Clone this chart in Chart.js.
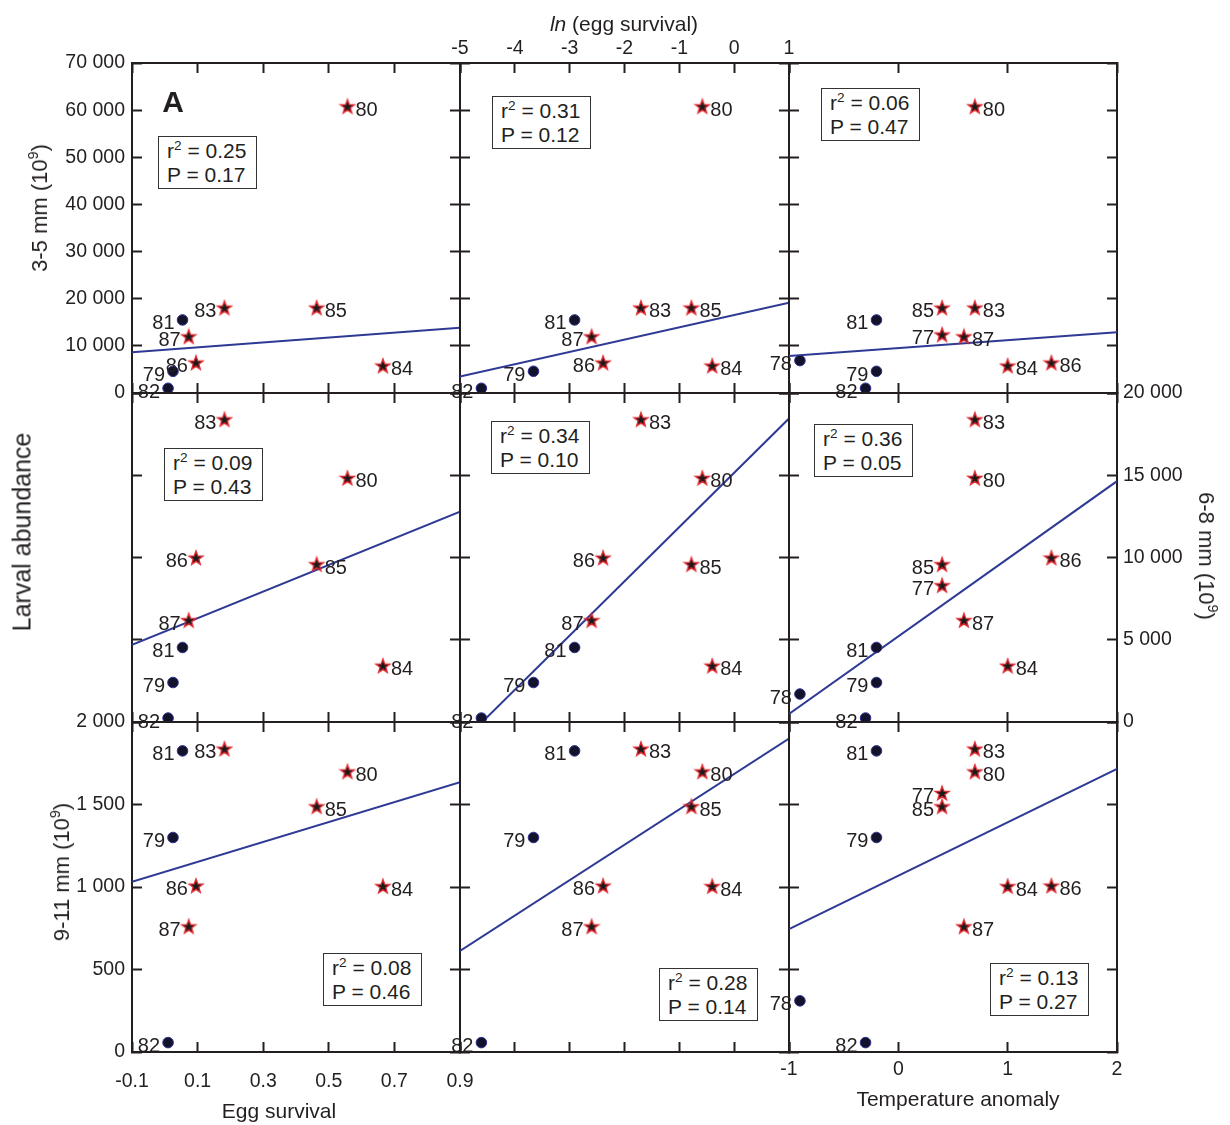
<!DOCTYPE html>
<html>
<head>
<meta charset="utf-8">
<script src="https://cdn.jsdelivr.net/npm/chart.js@4.4.0/dist/chart.umd.min.js"></script>
<style>
  body { margin: 0; background: #fff; }
  #page { position: relative; width: 1230px; height: 1125px; overflow: hidden; font-family: "Liberation Sans", Arial, sans-serif; color: #231f20; }
  #page canvas { position: absolute; left: 0; top: 0; }
  .lbl { position: absolute; line-height: 1; white-space: nowrap; transform: translate(-50%, -50%); z-index: 2; }
  .rotl { transform: translate(-50%, -50%) rotate(-90deg); }
  .rotr { transform: translate(-50%, -50%) rotate(90deg); }
  .lbl sup, .stat sup { font-size: 0.65em; line-height: 0; vertical-align: 0.6em; }
  .stat { position: absolute; z-index: 2; box-sizing: border-box; border: 1.5px solid #333; background: #fff;
          font-size: 21px; line-height: 24px; padding: 2px 0 0 8px; white-space: nowrap; }
</style>
</head>
<body>
<div id="page">
  <div id="charts"></div>
  <div class="lbl" style="left:624px;top:23px;font-size:21px"><i>ln</i> (egg survival)</div>
  <div class="lbl" style="left:279px;top:1110px;font-size:21px">Egg survival</div>
  <div class="lbl" style="left:958px;top:1098px;font-size:21px">Temperature anomaly</div>
  <div class="lbl rotl" style="left:40px;top:208px;font-size:22px">3-5 mm (10<sup>9</sup>)</div>
  <div class="lbl rotl" style="left:22px;top:532px;font-size:25px">Larval abundance</div>
  <div class="lbl rotl" style="left:62px;top:872px;font-size:22px">9-11 mm (10<sup>9</sup>)</div>
  <div class="lbl rotr" style="left:1206px;top:556px;font-size:22px">6-8 mm (10<sup>9</sup>)</div>
  <div class="lbl" style="left:173px;top:102px;font-size:30px;font-weight:bold">A</div>
  <div id="stats"></div>
</div>
<script>
// years and values (77 and 78 have no egg survival)
const years = [77, 78, 79, 80, 81, 82, 83, 84, 85, 86, 87];
const circleYears = [78, 79, 81, 82];
const eggSurvival = [null, null, 0.025, 0.557, 0.054, 0.010, 0.182, 0.665, 0.463, 0.095, 0.073];
const lnEggSurvival = [null, null, -3.66, -0.58, -2.91, -4.61, -1.70, -0.40, -0.78, -2.39, -2.60];
const tempAnomaly = [0.40, -0.90, -0.20, 0.70, -0.20, -0.30, 0.70, 1.00, 0.40, 1.40, 0.60];
const larvae3to5 = [12400, 6870, 4600, 60800, 15500, 1000, 18100, 5800, 18100, 6450, 12000];
const larvae6to8 = [8310, 1700, 2400, 14840, 4530, 240, 18400, 3420, 9590, 9990, 6190];
const larvae9to11 = [1570, 310, 1300, 1700, 1825, 57, 1838, 1005, 1489, 1008, 761];

// regression lines: y at left and right end of each panel [row][col]
const fitEnds = [
  [[8640, 13830], [3470, 19150], [7870, 12890]],
  [[4690, 12780], [-1340, 18450], [485, 14640]],
  [[1032, 1635], [613, 1899], [745, 1716]]
];
const rSquared = [[0.25, 0.31, 0.06], [0.09, 0.34, 0.36], [0.08, 0.28, 0.13]];
const pValues = [[0.17, 0.12, 0.47], [0.43, 0.10, 0.05], [0.46, 0.14, 0.27]];

const xRanges = [[-0.1, 0.9], [-5, 1], [-1, 2]];
const xTicks = [[-0.1, 0.1, 0.3, 0.5, 0.7, 0.9], [-5, -4, -3, -2, -1, 0, 1], [-1, 0, 1, 2]];
const yRanges = [[0, 70000], [0, 20000], [0, 2000]];
const yTicks = [
  [0, 10000, 20000, 30000, 40000, 50000, 60000, 70000],
  [0, 5000, 10000, 15000, 20000],
  [0, 500, 1000, 1500, 2000]
];

// which year labels sit left of their marker, per column
const labelLeft = [[79, 81, 82, 83, 86, 87], [79, 81, 82, 86, 87], [77, 78, 79, 81, 82, 85]];

// panel edges in page pixels and stat box spots
const colEdges = [132, 460, 789, 1117];
const rowEdges = [63, 393, 722, 1052];
const statBoxes = [
  [[158, 136], [492, 96], [821, 88]],
  [[164, 448], [491, 421], [814, 424]],
  [[323, 953], [659, 968], [990, 963]]
];

const W = 1230, H = 1125;
const SIDE = 100, CAP = 55;   // fixed scale box sizes so labels are not clipped
const ink = '#231f20';
const family = '"Liberation Sans", Arial, sans-serif';
const xSeries = [eggSurvival, lnEggSurvival, tempAnomaly];
const ySeries = [larvae3to5, larvae6to8, larvae9to11];
const spaced = v => String(v).replace(/\B(?=(\d{3})+(?!\d))/g, ' ');
const xFormat = [v => v.toFixed(1), v => String(v), v => String(v)];

function makeStar() {
  const c = document.createElement('canvas');
  c.width = 18; c.height = 18;
  const g = c.getContext('2d');
  g.beginPath();
  for (let k = 0; k < 10; k++) {
    const r = k % 2 ? 3.0 : 7.4;
    const a = -Math.PI / 2 + k * Math.PI / 5;
    g.lineTo(9 + r * Math.cos(a), 9.6 + r * Math.sin(a));
  }
  g.closePath();
  g.fillStyle = '#1b1b1b';
  g.fill();
  g.strokeStyle = '#e3262d';
  g.lineWidth = 1.3;
  g.stroke();
  return c;
}
const starImg = makeStar();

const yearLabels = {
  id: 'yearLabels',
  afterDatasetsDraw(chart, args, opts) {
    const meta = chart.getDatasetMeta(0);
    const ds = chart.data.datasets[0];
    const g = chart.ctx;
    g.save();
    g.font = '20px ' + family;
    g.fillStyle = ink;
    g.textBaseline = 'alphabetic';
    meta.data.forEach((pt, i) => {
      const yr = ds.data[i].year;
      const onLeft = opts.left.includes(yr);
      g.textAlign = onLeft ? 'right' : 'left';
      g.fillText(String(yr), pt.x + (onLeft ? -8 : 8), pt.y + 9.5);
    });
    g.restore();
  }
};

function axis(pos, range, ticks, show, pad, fmt) {
  const vertical = pos === 'left' || pos === 'right';
  return {
    type: 'linear',
    position: pos,
    min: range[0],
    max: range[1],
    afterBuildTicks: s => { s.ticks = ticks.map(v => ({ value: v })); },
    afterFit: s => { if (vertical) s.width = SIDE; else s.height = CAP; },
    border: { display: true, color: ink, width: 2 },
    grid: { drawOnChartArea: false, drawTicks: true, tickLength: -10, tickWidth: 2, tickColor: ink },
    ticks: {
      display: show,
      padding: pad,
      color: ink,
      autoSkip: false,
      maxRotation: 0,
      font: { family: family, size: 19.5 },
      callback: v => fmt(v)
    }
  };
}

const holder = document.getElementById('charts');
for (let r = 0; r < 3; r++) {
  for (let c = 0; c < 3; c++) {
    const canvas = document.createElement('canvas');
    canvas.width = W;
    canvas.height = H;
    holder.appendChild(canvas);

    const xs = xSeries[c], ys = ySeries[r];
    const pts = years.map((yr, i) => ({ x: xs[i], y: ys[i], year: yr })).filter(p => p.x !== null);
    const fit = [
      { x: xRanges[c][0], y: fitEnds[r][c][0] },
      { x: xRanges[c][1], y: fitEnds[r][c][1] }
    ];

    new Chart(canvas, {
      type: 'scatter',
      data: {
        datasets: [{
          data: pts,
          pointStyle: ctx => circleYears.includes(ctx.raw.year) ? 'circle' : starImg,
          pointRadius: 5.3,
          backgroundColor: '#12122b',
          borderColor: '#2e3192',
          borderWidth: 1
        }, {
          data: fit,
          showLine: true,
          pointRadius: 0,
          borderColor: '#2e3a94',
          borderWidth: 2
        }]
      },
      options: {
        responsive: false,
        devicePixelRatio: 1,
        animation: false,
        events: [],
        layout: {
          padding: {
            left: colEdges[c] - SIDE,
            right: W - colEdges[c + 1] - SIDE,
            top: rowEdges[r] - CAP,
            bottom: H - rowEdges[r + 1] - CAP
          }
        },
        scales: {
          x: axis('bottom', xRanges[c], xTicks[c], r === 2 && c !== 1, c === 0 ? 28 : 16, xFormat[c]),
          x2: axis('top', xRanges[c], xTicks[c], r === 0 && c === 1, 13, xFormat[c]),
          y: axis('left', yRanges[r], yTicks[r], c === 0 && r !== 1, 17, spaced),
          y2: axis('right', yRanges[r], yTicks[r], c === 2 && r === 1, 16, spaced)
        },
        plugins: {
          legend: { display: false },
          tooltip: { enabled: false },
          yearLabels: { left: labelLeft[c] }
        }
      },
      plugins: [yearLabels]
    });
  }
}

const statHolder = document.getElementById('stats');
for (let r = 0; r < 3; r++) {
  for (let c = 0; c < 3; c++) {
    const box = document.createElement('div');
    box.className = 'stat';
    box.style.left = statBoxes[r][c][0] + 'px';
    box.style.top = statBoxes[r][c][1] + 'px';
    box.style.width = '99px';
    box.style.height = '53px';
    box.innerHTML = 'r<sup>2</sup> = ' + rSquared[r][c].toFixed(2) + '<br>P = ' + pValues[r][c].toFixed(2);
    statHolder.appendChild(box);
  }
}
</script>
</body>
</html>
